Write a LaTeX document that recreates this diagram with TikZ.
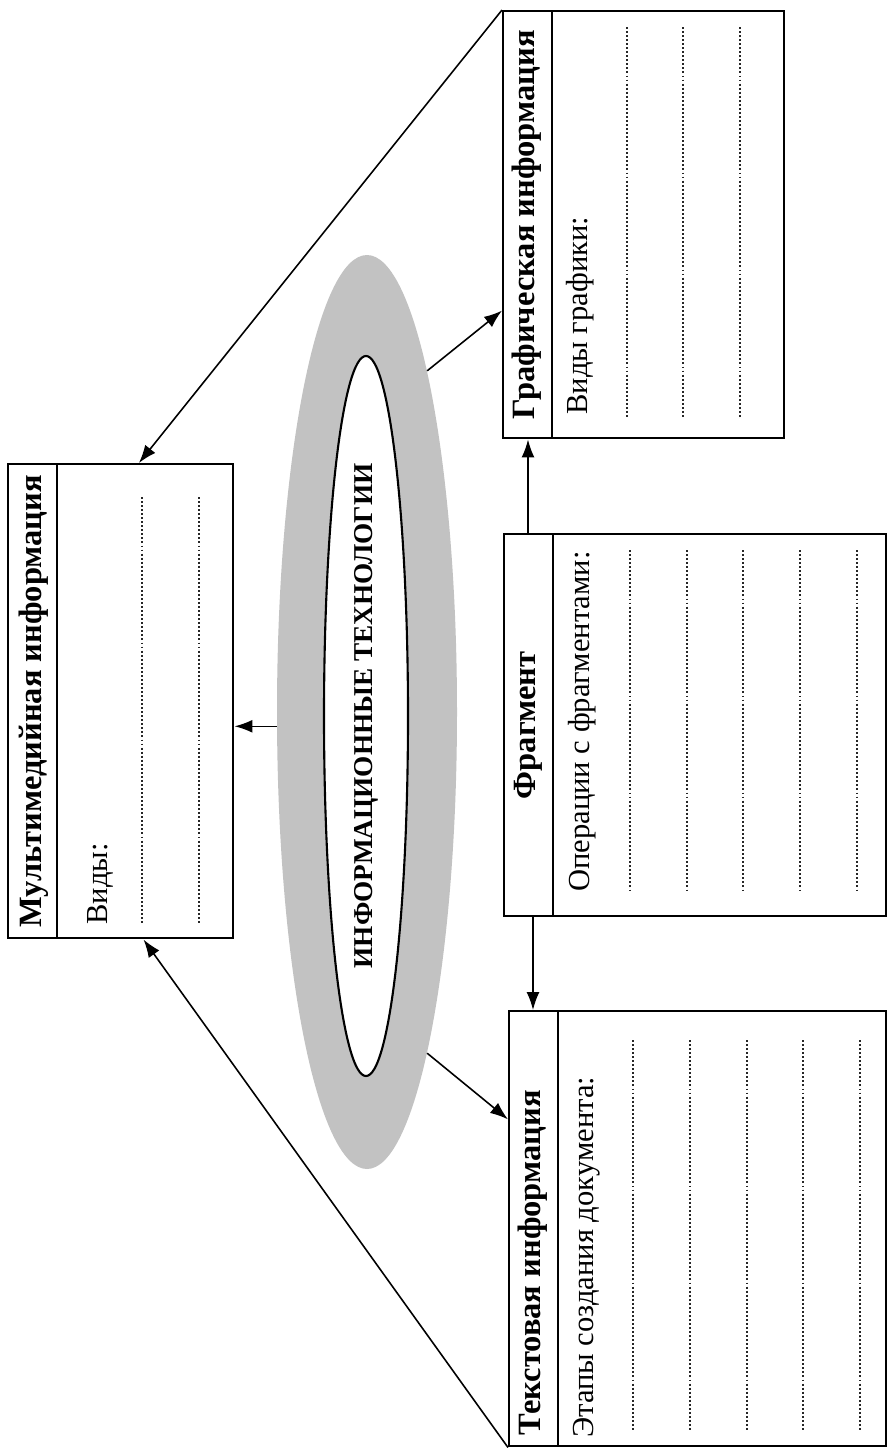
\documentclass[tikz,border=0pt]{standalone}
\usepackage{fontspec}
\setmainfont{Liberation Serif}
\usepackage{tikz}
\usetikzlibrary{arrows.meta,shapes.geometric,calc}

\begin{document}
\begin{tikzpicture}[
x=0.2mm, y=-0.2mm,
infobox/.style={rectangle, draw, line width=1.4pt, inner sep=0pt},
headline/.style={rotate=90, font=\bfseries\fontsize{18.5}{22}\selectfont, inner sep=0pt},
subline/.style={rotate=90, anchor=west, font=\fontsize{17.4}{21}\selectfont, inner sep=0pt},
dotline/.style={line width=1.1pt, dash pattern=on 1.1pt off 1.2pt, black!85},
arrow/.style={-{Latex[length=3.6mm, width=2.6mm]}, line width=0.9pt}
]
\useasboundingbox (0,0) rectangle (896,1449);

% centre
\node[ellipse, fill=black!24, minimum width=36mm, minimum height=182.8mm] (halo) at (367,712) {};
\node[ellipse, draw, line width=1.2pt, fill=white, rotate=90, inner sep=0pt,
  minimum width=144mm, minimum height=16.8mm, font=\bfseries\fontsize{15.5}{18}\selectfont]
  (core) at (366,716) {ИНФОРМАЦИОННЫЕ ТЕХНОЛОГИИ};

% boxes
\node[infobox, minimum width=45mm, minimum height=94.8mm, anchor=north west] (mmbox) at (7,463) {};
\node[infobox, minimum width=56.2mm, minimum height=85.4mm, anchor=north west] (graphbox) at (502,10) {};
\node[infobox, minimum width=76.4mm, minimum height=76.4mm, anchor=north west] (fragbox) at (503,533) {};
\node[infobox, minimum width=75.4mm, minimum height=87mm, anchor=north west] (textbox) at (508,1010) {};

\foreach \b in {mmbox,graphbox,fragbox,textbox}
  \draw[line width=1.4pt] ([xshift=10mm]\b.north west) -- ([xshift=10mm]\b.south west);

\node[headline] at ([xshift=5.3mm]mmbox.west) {Мультимедийная информация};
\node[headline] at ([xshift=5mm]graphbox.west) {Графическая информация};
\node[headline] at ([xshift=5mm]fragbox.west) {Фрагмент};
\node[headline, anchor=west] at ([xshift=5mm, yshift=2.4mm]textbox.south west) {Текстовая информация};

\node[subline] at (100,925) {Виды:};
\node[subline] at (580,415) {Виды графики:};
\node[subline] at (582,892) {Операции с фрагментами:};
\node[subline] at (587,1438) {Этапы создания документа:};

% lines to fill in
\foreach \px in {142,199} \draw[dotline] (\px,497) -- (\px,925);
\foreach \px in {627,683,740} \draw[dotline] (\px,27) -- (\px,417);
\foreach \px in {630,687,743,800,857} \draw[dotline] (\px,550) -- (\px,893);
\foreach \px in {633,690,747,803,860} \draw[dotline] (\px,1040) -- (\px,1432);

% arrows
\coordinate (mmtop) at ($(mmbox.north west)!0.58!(mmbox.north east)$);
\coordinate (mmbot) at ($(mmbox.south west)!0.6!(mmbox.south east)$);
\coordinate (graphin) at ($(graphbox.south west)!0.3!(graphbox.north west)$);
\coordinate (textin) at ($(textbox.north west)!0.25!(textbox.south west)$);
\coordinate (fragup) at ([xshift=5mm]fragbox.north west);
\coordinate (fragdown) at ([xshift=6mm]fragbox.south west);

\draw[arrow] (graphbox.north west) -- (mmtop);
\draw[arrow] (textbox.south west) -- (mmbot);
\draw[arrow] (halo.80) -- (graphin);
\draw[arrow] (halo.-80) -- (textin);
\draw[arrow] (halo.189) -- (halo.189 -| mmbox.east);
\draw[arrow] (fragup) -- (fragup |- graphbox.south);
\draw[arrow] (fragdown) -- (fragdown |- textbox.north);
\end{tikzpicture}
\end{document}
